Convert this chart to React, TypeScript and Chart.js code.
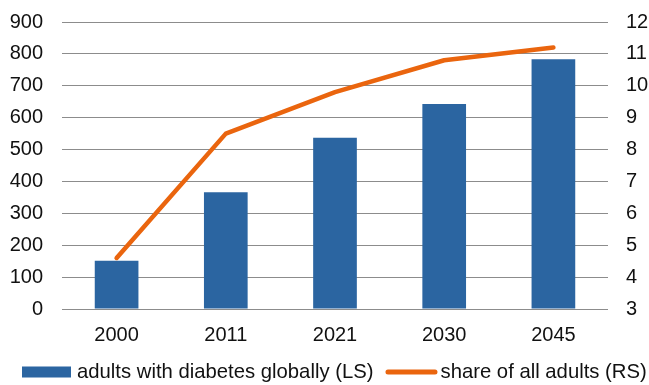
import React, { useEffect, useRef } from "react";
import { Chart, registerables } from "chart.js";

Chart.register(...registerables);

const categories = ["2000", "2011", "2021", "2030", "2045"];
const adultsWithDiabetes = [151, 366, 537, 643, 783];
const shareOfAdults = [4.6, 8.5, 9.8, 10.8, 11.2];
const leftTicks = [0, 100, 200, 300, 400, 500, 600, 700, 800, 900];
const rightTicks = [3, 4, 5, 6, 7, 8, 9, 10, 11, 12];
const barLabel = "adults with diabetes globally (LS)";
const lineLabel = "share of all adults (RS)";

const BAR_COLOR = "#2B65A1";
const LINE_COLOR = "#EA650E";
const FONT_FAMILY = "'Liberation Sans', Arial, sans-serif";
const FONT_SIZE = 20;
const TEXT_COLOR = "#111111";

const legendPlugin = {
  id: "customLegend",
  afterDraw(chart: any) {
    const ctx = chart.ctx as CanvasRenderingContext2D;
    const y = chart.height - 13;
    ctx.save();
    ctx.font = `${FONT_SIZE + 0.3}px ${FONT_FAMILY}`;
    ctx.textBaseline = "middle";
    ctx.textAlign = "left";
    let x = 22;
    ctx.fillStyle = BAR_COLOR;
    ctx.fillRect(x, y - 5.5, 49, 11);
    x += 49 + 6;
    ctx.fillStyle = TEXT_COLOR;
    ctx.fillText(barLabel, x, y);
    x += ctx.measureText(barLabel).width + 12;
    ctx.strokeStyle = LINE_COLOR;
    ctx.lineWidth = 5;
    ctx.lineCap = "round";
    ctx.beginPath();
    ctx.moveTo(x + 2.5, y);
    ctx.lineTo(x + 49.5, y);
    ctx.stroke();
    x += 55;
    ctx.fillStyle = TEXT_COLOR;
    ctx.fillText(lineLabel, x, y);
    ctx.restore();
  },
};

export default function App() {
  const canvasRef = useRef<HTMLCanvasElement | null>(null);

  useEffect(() => {
    if (!canvasRef.current) return;
    const chart = new Chart(canvasRef.current, {
      type: "bar",
      data: {
        labels: categories,
        datasets: [
          {
            type: "line",
            label: lineLabel,
            data: shareOfAdults,
            yAxisID: "y1",
            borderColor: LINE_COLOR,
            backgroundColor: LINE_COLOR,
            borderWidth: 4.5,
            pointRadius: 0,
            pointHoverRadius: 0,
            tension: 0,
            borderCapStyle: "round",
            borderJoinStyle: "round",
            order: 0,
          } as any,
          {
            type: "bar",
            label: barLabel,
            data: adultsWithDiabetes,
            yAxisID: "y",
            backgroundColor: BAR_COLOR,
            borderWidth: 0,
            barPercentage: 0.4,
            categoryPercentage: 1,
            order: 1,
          } as any,
        ],
      },
      options: {
        responsive: true,
        maintainAspectRatio: false,
        animation: false,
        layout: { padding: { top: 22, bottom: 40, left: 0, right: 0 } },
        plugins: {
          legend: { display: false },
          tooltip: { enabled: false },
        },
        scales: {
          x: {
            grid: { display: false, drawTicks: false },
            border: { display: false },
            ticks: {
              color: TEXT_COLOR,
              font: { family: FONT_FAMILY, size: FONT_SIZE },
              padding: 14,
            },
            afterFit: (scale: any) => {
              scale.height = 36;
              scale.paddingLeft = 0;
              scale.paddingRight = 0;
            },
          },
          y: {
            position: "left",
            min: leftTicks[0],
            max: leftTicks[leftTicks.length - 1],
            afterBuildTicks: (scale: any) => {
              scale.ticks = leftTicks.map((v) => ({ value: v }));
            },
            grid: { color: "#8C8C8C", lineWidth: 1, drawTicks: false },
            border: { display: false },
            ticks: {
              color: TEXT_COLOR,
              font: { family: FONT_FAMILY, size: FONT_SIZE },
              padding: 19,
            },
            afterFit: (scale: any) => {
              scale.width = 62;
              scale.paddingTop = 0;
              scale.paddingBottom = 0;
            },
          },
          y1: {
            position: "right",
            min: rightTicks[0],
            max: rightTicks[rightTicks.length - 1],
            afterBuildTicks: (scale: any) => {
              scale.ticks = rightTicks.map((v) => ({ value: v }));
            },
            grid: { display: false, drawTicks: false },
            border: { display: false },
            ticks: {
              color: TEXT_COLOR,
              font: { family: FONT_FAMILY, size: FONT_SIZE },
              padding: 18,
            },
            afterFit: (scale: any) => {
              scale.width = 41;
              scale.paddingTop = 0;
              scale.paddingBottom = 0;
            },
          },
        },
      },
      plugins: [legendPlugin],
    });
    return () => chart.destroy();
  }, []);

  return (
    <div style={{ position: "fixed", left: 0, top: 0, width: 649, height: 385 }}>
      <canvas ref={canvasRef} />
    </div>
  );
}
